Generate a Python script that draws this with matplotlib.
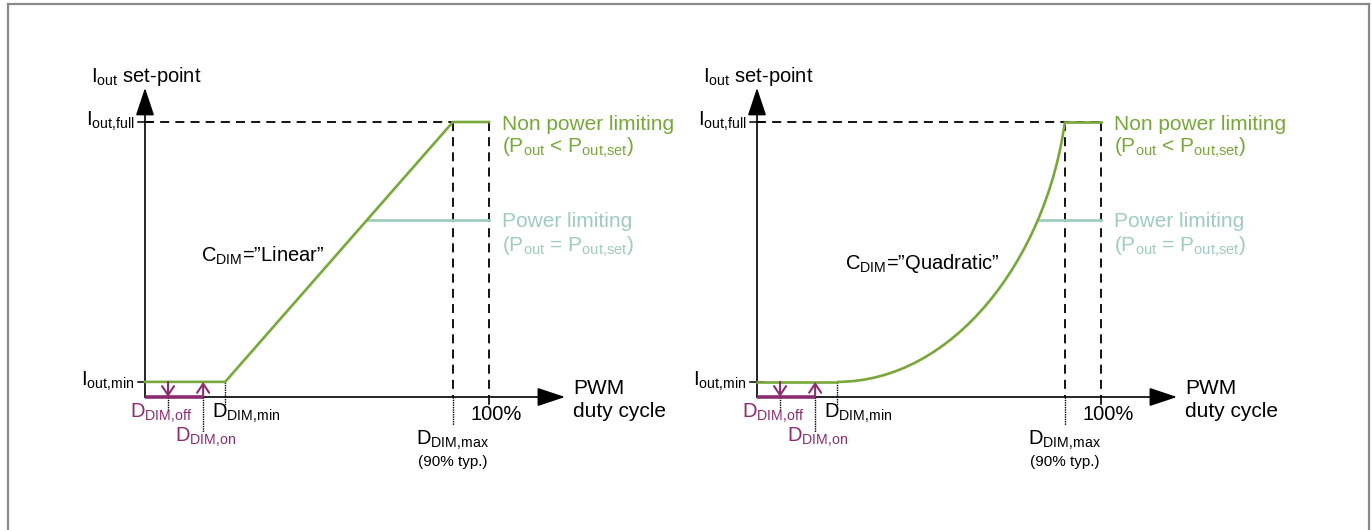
import numpy as np
import matplotlib.pyplot as plt
from matplotlib.lines import Line2D
from matplotlib.path import Path
from matplotlib.patches import PathPatch

plt.rcParams['font.family'] = ['Liberation Sans', 'DejaVu Sans']
plt.rcParams['mathtext.fontset'] = 'custom'
plt.rcParams['mathtext.rm'] = 'Liberation Sans'
plt.rcParams['mathtext.it'] = 'Liberation Sans:italic'

GREEN = '#78a83a'
TEAL = '#9fccbf'
PURPLE = '#8b2c71'

# duty cycle points (x axis units, 100 = 100%)
d_off = 6.7
d_on = 16.9
d_min = 23.3
d_max = 89.5
d_full = 100.0

# set-point levels (y axis units, 100 = Iout,full)
i_min = 5.5
i_full = 100.0
i_plim = 64.4

curve_names = ['Linear', 'Quadratic']
plim_start = [64.6, 81.7]      # where the power limit line starts
name_pos = [(16.2, 49.1), (25.6, 46.5)]

# linear curve
lin_x = [0, d_min, d_max, d_full]
lin_y = [i_min, i_min, i_full, i_full]
# quadratic curve: cubic bezier control points
quad_x = [d_min, 57, 84, d_max]
quad_y = [i_min, i_min, 50, i_full]

# panel origins in pixels and pixel scale per unit
origin_px = [(145, 397), (757, 397)]
sx, sy = 3.44, 2.75
W, H = 1372, 530

fig = plt.figure(figsize=(W / 100, H / 100), dpi=100)

# outer grey frame
for xs, ys in [([7.5, 7.5], [530, 3.5]), ([7.5, 1368.5], [3.5, 3.5]), ([1368.5, 1368.5], [3.5, 530])]:
    fig.add_artist(Line2D([x / W for x in xs], [1 - y / H for y in ys],
                          transform=fig.transFigure, color='#8a8a8a', lw=1.6))

big = 14.5
dash = (0, (5, 3.4))
dot = (0, (1, 0.7))


def draw_panel(ax, k):
    kw = dict(clip_on=False)
    # dashed guide lines
    ax.plot([0, d_full], [i_full, i_full], color='k', lw=1.3, ls=dash, **kw)
    ax.plot([d_max, d_max], [i_full, 0], color='k', lw=1.3, ls=dash, **kw)
    ax.plot([d_full, d_full], [i_full, 0], color='k', lw=1.3, ls=dash, **kw)
    # dotted drop lines
    ax.plot([d_max, d_max], [0, -10.2], color='k', lw=1.0, ls=dot, **kw)
    ax.plot([d_min, d_min], [i_min, -2.9], color='k', lw=1.0, ls=dot, **kw)
    ax.plot([d_on, d_on], [0, -12.7], color='k', lw=1.0, ls=dot, **kw)
    ax.plot([d_off, d_off], [0, -4.7], color='k', lw=1.0, ls=dot, **kw)
    ax.plot([d_full, d_full], [0, -2.5], color='k', lw=1.2, **kw)
    # y ticks
    for lev in [i_full, i_min]:
        ax.plot([-2.0, 2.0], [lev, lev], color='k', lw=1.1, **kw)

    # axes with arrows
    arr = dict(arrowstyle='-|>,head_length=1.2,head_width=0.4', mutation_scale=14.4,
               lw=1.2, color='k', shrinkA=0, shrinkB=0)
    ax.annotate('', xy=(0, 112.4), xytext=(0, 0), arrowprops=arr, annotation_clip=False)
    ax.annotate('', xy=(122.1, 0), xytext=(0, 0), arrowprops=arr, annotation_clip=False)

    # power limiting line
    ax.plot([plim_start[k], d_full], [i_plim, i_plim], color=TEAL, lw=2.0, **kw)

    # dimming curve
    if k == 0:
        ax.plot(lin_x, lin_y, color=GREEN, lw=1.9, solid_joinstyle='miter', zorder=4, **kw)
    else:
        ax.plot([0, d_min], [i_min, i_min], color=GREEN, lw=1.9, zorder=4, **kw)
        verts = list(zip(quad_x, quad_y))
        path = Path(verts, [Path.MOVETO, Path.CURVE4, Path.CURVE4, Path.CURVE4])
        ax.add_patch(PathPatch(path, fc='none', ec=GREEN, lw=1.9, zorder=4, clip_on=False))
        ax.plot([d_max, d_full], [i_full, i_full], color=GREEN, lw=1.9, zorder=4, **kw)

    # purple hysteresis marks
    ax.plot([0, d_on], [0, 0], color=PURPLE, lw=2.6, zorder=5, solid_capstyle='butt', **kw)
    parr = dict(arrowstyle='->,head_length=0.45,head_width=0.3', mutation_scale=14.4,
                lw=1.5, color=PURPLE, shrinkA=0, shrinkB=0)
    ax.annotate('', xy=(d_off, 0), xytext=(d_off, i_min), arrowprops=parr,
                annotation_clip=False, zorder=6)
    ax.annotate('', xy=(d_on, i_min), xytext=(d_on, 0), arrowprops=parr,
                annotation_clip=False, zorder=6)

    # labels
    ax.text(-15.7, 114.5, r'$\mathrm{I_{out}}$ set-point', fontsize=big, va='baseline')
    ax.text(-3.2, 98.5, r'$\mathrm{I_{out{,}full}}$', fontsize=big, ha='right', va='baseline')
    ax.text(-3.2, 4.0, r'$\mathrm{I_{out{,}min}}$', fontsize=big, ha='right', va='baseline')
    ax.text(-4.4, -7.6, r'$\mathrm{D_{DIM{,}off}}$', fontsize=big, color=PURPLE, va='baseline')
    ax.text(8.7, -16.4, r'$\mathrm{D_{DIM{,}on}}$', fontsize=big, color=PURPLE, va='baseline')
    ax.text(19.5, -7.6, r'$\mathrm{D_{DIM{,}min}}$', fontsize=big, va='baseline')
    ax.text(94.5, -8.4, '100%', fontsize=big, va='baseline')
    ax.text(d_max, -17.3, r'$\mathrm{D_{DIM{,}max}}$', fontsize=big, ha='center', va='baseline')
    ax.text(d_max, -25.0, '(90% typ.)', fontsize=11, ha='center', va='baseline')
    ax.text(124.4, 1.0, 'PWM', fontsize=15, va='baseline')
    ax.text(124.4, -7.3, 'duty cycle', fontsize=15, va='baseline')
    ax.text(103.8, 97.2, 'Non power limiting', fontsize=15, color=GREEN, va='baseline')
    ax.text(103.8, 88.7, r'($\mathrm{P_{out}}$ < $\mathrm{P_{out{,}set}}$)', fontsize=15,
            color=GREEN, va='baseline')
    ax.text(103.8, 61.8, 'Power limiting', fontsize=15, color=TEAL, va='baseline')
    ax.text(103.8, 52.7, r'($\mathrm{P_{out}}$ = $\mathrm{P_{out{,}set}}$)', fontsize=15,
            color=TEAL, va='baseline')
    nx, ny = name_pos[k]
    ax.text(nx, ny, r'$\mathrm{C_{DIM}}$=”' + curve_names[k] + '”', fontsize=big, va='baseline')


for k, (ox, oy) in enumerate(origin_px):
    ax = fig.add_axes([0, 0, 1, 1])
    ax.set_xlim(-ox / sx, (W - ox) / sx)
    ax.set_ylim(-(H - oy) / sy, oy / sy)
    ax.patch.set_alpha(0)
    ax.axis('off')
    draw_panel(ax, k)

fig.savefig('out.png', dpi=100)
